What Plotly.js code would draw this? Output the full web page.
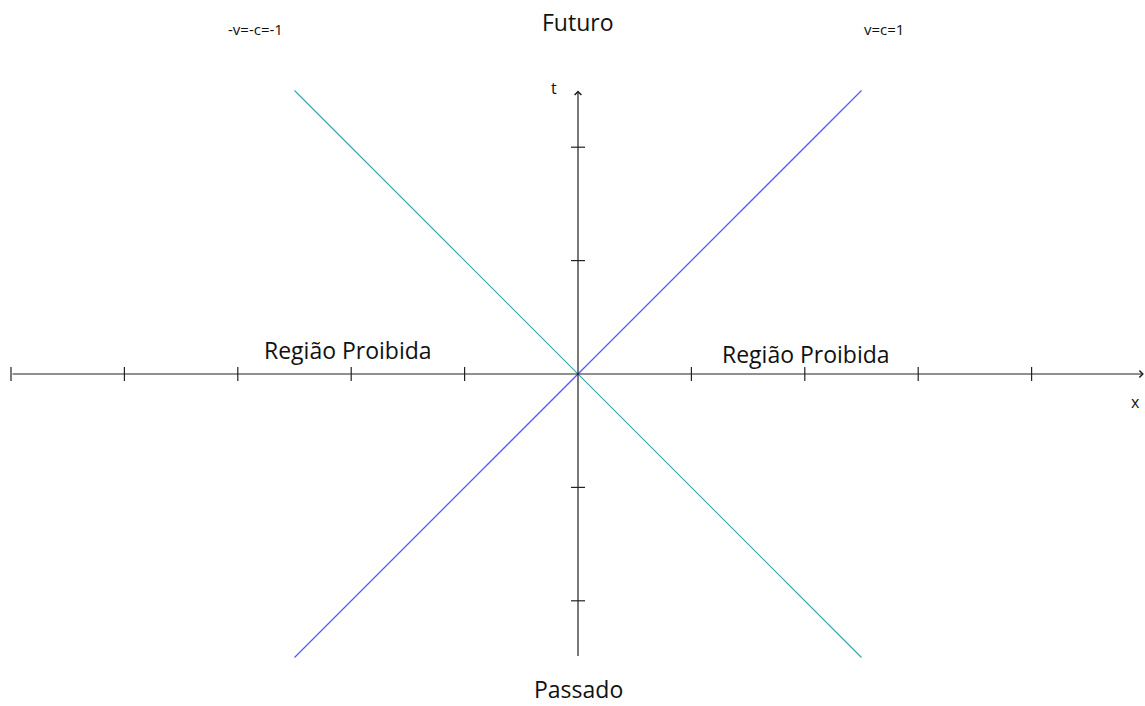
<!DOCTYPE html>
<html>
<head>
<meta charset="utf-8">
<script src="https://cdn.plot.ly/plotly-3.0.1.min.js"></script>
<style>html,body{margin:0;padding:0;background:#fff;}#chart{width:1145px;height:706px;}</style>
</head>
<body>
<div id="chart"></div>
<script>
// Data
const xTicks = [-5, -4, -3, -2, -1, 1, 2, 3, 4];
const yTicks = [-2, -1, 1, 2];
const lineX = [-2.5, 2.5];
const lineNeg = [2.5, -2.5];   // -v = -c = -1
const linePos = [-2.5, 2.5];   // v = c = 1
const xAxisSpan = [-5, 4.99];
const yAxisSpan = [-2.5, 2.5];

const unit = 113.4;
const W = 1145, H = 706, cx = 578, cy = 374;
const axColor = '#222222';
const font = 'Open Sans, "Noto Sans", sans-serif';

const traces = [
  {x: lineX, y: lineNeg, mode: 'lines', line: {color: '#2fa5ad', width: 1.1}, hoverinfo: 'skip'},
  {x: lineX, y: linePos, mode: 'lines', line: {color: '#5a5aff', width: 1.3}, hoverinfo: 'skip'},
  {x: xTicks, y: xTicks.map(() => 0), mode: 'markers',
   marker: {symbol: 'line-ns', size: 10, line: {color: axColor, width: 1.2}}, hoverinfo: 'skip'},
  {x: yTicks.map(() => 0), y: yTicks, mode: 'markers',
   marker: {symbol: 'line-ew', size: 10, line: {color: axColor, width: 1.2}}, hoverinfo: 'skip'}
];

function px(p) { return p / W; }
function py(p) { return 1 - p / H; }
function label(text, x, y, size) {
  return {text: text, x: px(x), y: py(y), xref: 'paper', yref: 'paper', xanchor: 'center', yanchor: 'middle',
          showarrow: false, font: {family: font, size: size, color: '#111'}};
}

const annotations = [
  {x: xAxisSpan[1], y: 0, ax: xAxisSpan[0], ay: 0, xref: 'x', yref: 'y', axref: 'x', ayref: 'y',
   showarrow: true, arrowhead: 4, arrowsize: 1.1, arrowwidth: 1.2, arrowcolor: axColor, text: ''},
  {x: 0, y: yAxisSpan[1], ax: 0, ay: yAxisSpan[0], xref: 'x', yref: 'y', axref: 'x', ayref: 'y',
   showarrow: true, arrowhead: 4, arrowsize: 1.1, arrowwidth: 1.2, arrowcolor: axColor, text: ''},
  label('Futuro', 578, 22, 23),
  label('Passado', 578, 689, 23),
  label('Região Proibida', 348, 350, 23),
  label('Região Proibida', 806, 354, 23),
  label('-v=-c=-1', 255, 29, 15),
  label('v=c=1', 884, 29, 15),
  label('t', 554, 88, 16),
  label('x', 1135, 402, 16)
];

const layout = {
  width: W, height: H,
  margin: {l: 0, r: 0, t: 0, b: 0, pad: 0},
  paper_bgcolor: '#fff', plot_bgcolor: '#fff',
  showlegend: false,
  xaxis: {range: [-cx / unit, (W - cx) / unit], visible: false, fixedrange: true},
  yaxis: {range: [-(H - cy) / unit, cy / unit], visible: false, fixedrange: true},
  annotations: annotations
};

Plotly.newPlot('chart', traces, layout, {staticPlot: true, displayModeBar: false});
</script>
</body>
</html>
